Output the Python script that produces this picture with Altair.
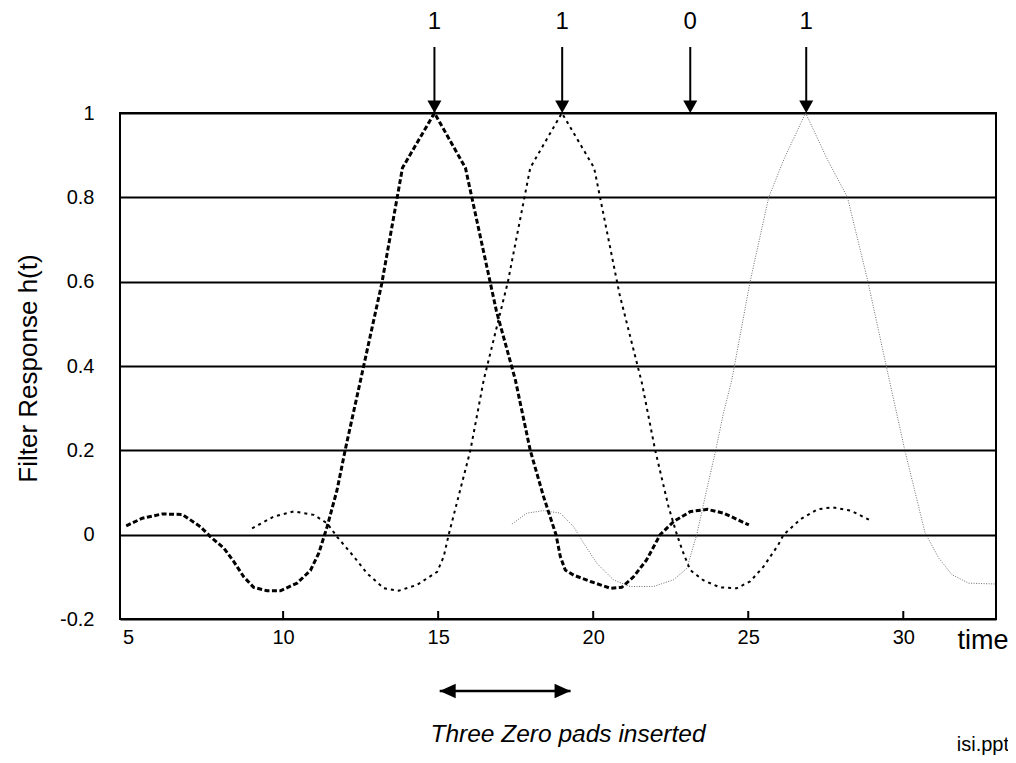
import altair as alt
import pandas as pd

# ---- data ------------------------------------------------------------------
# Pulse 1 (heavy dashed) - peak near t = 14.9
p1_t = [4.94, 5.46, 6.1, 6.75, 7.33, 7.66, 8.09, 8.41, 8.73, 9.05, 9.48, 9.91,
        10.45, 10.88, 11.15, 11.42, 11.74, 12.0, 12.5, 13.18, 13.85, 14.88,
        15.88, 16.88, 17.49, 17.97, 18.4, 18.8, 18.94, 19.1, 19.37, 19.91,
        20.55, 20.92, 21.3, 21.72, 22.16, 22.59, 23.14, 23.68, 24.21, 25.02]
p1_h = [0.021, 0.039, 0.049, 0.048, 0.019, -0.005, -0.032, -0.064, -0.1, -0.125,
        -0.133, -0.133, -0.115, -0.085, -0.044, 0.019, 0.106, 0.2, 0.367, 0.595,
        0.87, 1.0, 0.87, 0.53, 0.367, 0.2, 0.09, 0.0, -0.052, -0.084, -0.096,
        -0.111, -0.127, -0.125, -0.1, -0.06, 0.0, 0.031, 0.055, 0.06, 0.051, 0.023]

# Pulse 2 (medium dashed) - peak near t = 19
p2_t = [9.0, 9.7, 10.34, 10.99, 11.42, 11.74, 12.28, 12.71, 13.25, 13.73, 14.32,
        14.97, 15.18, 15.34, 16.04, 16.47, 17.25, 17.97, 18.99, 20.03, 20.85,
        21.57, 22.0, 22.43, 22.7, 22.91, 23.13, 23.55, 24.09, 24.63, 25.06,
        25.49, 25.97, 26.14, 26.69, 27.23, 27.72, 28.31, 28.96]
p2_h = [0.015, 0.043, 0.055, 0.047, 0.027, -0.005, -0.052, -0.092, -0.127, -0.133,
        -0.119, -0.088, -0.052, 0.0, 0.2, 0.367, 0.6, 0.87, 1.0, 0.87, 0.57,
        0.36, 0.2, 0.066, 0.0, -0.044, -0.084, -0.108, -0.125, -0.127, -0.111,
        -0.076, -0.024, 0.0, 0.037, 0.06, 0.065, 0.057, 0.033]

# Pulse 3 (thin dotted) - peak near t = 26.9
p3_t = [17.38, 17.86, 18.4, 18.94, 19.37, 19.69, 20.12, 20.65, 21.19, 21.94,
        22.59, 23.02, 23.34, 23.66, 23.95, 24.2, 24.47, 25.06, 25.66, 26.15,
        26.85, 27.55, 28.2, 28.86, 29.45, 30.05, 30.7, 31.14, 31.57, 32.11, 32.98]
p3_h = [0.025, 0.051, 0.057, 0.051, 0.019, -0.02, -0.068, -0.107, -0.123, -0.123,
        -0.107, -0.08, 0.0, 0.106, 0.2, 0.288, 0.367, 0.6, 0.8, 0.89,
        1.0, 0.89, 0.8, 0.6, 0.4, 0.2, 0.005, -0.055, -0.095, -0.115, -0.117]

x_labels = [5, 10, 15, 20, 25, 30]
x_inner_ticks = [10, 15, 20, 25, 30]
y_labels = [-0.2, 0, 0.2, 0.4, 0.6, 0.8, 1]

arrow_t = [14.88, 19.0, 23.13, 26.87]
arrow_bits = ["1", "1", "0", "1"]

pad_start = [15.05]
pad_end = [19.27]

# ---- tables -----------------------------------------------------------------
d1 = pd.DataFrame({"t": p1_t, "h": p1_h})
d2 = pd.DataFrame({"t": p2_t, "h": p2_h})
d3 = pd.DataFrame({"t": p3_t, "h": p3_h})
dticks = pd.DataFrame({"t": x_inner_ticks})
darrow = pd.DataFrame({"t": arrow_t, "bit": arrow_bits})
dpad = pd.DataFrame({"t": pad_start, "t2": pad_end})

FONT = "Liberation Sans"
XS = alt.Scale(domain=[4.74, 32.99], nice=False, zero=False)
YS = alt.Scale(domain=[-0.2, 1.0], nice=False, zero=False)

x_axis = alt.Axis(values=x_labels, labelExpr="'' + datum.value", ticks=False,
                  domain=False, grid=False, labelFontSize=20, labelPadding=8,
                  labelColor="black", labelFont=FONT,
                  title="time", titleFont=FONT, titleFontSize=27,
                  titleFontWeight="normal", titleColor="black",
                  titleX=837, titleY=21, titleAlign="left", titleBaseline="middle",
                  titleAnchor="start")
y_axis = alt.Axis(values=y_labels, labelExpr="'' + datum.value", ticks=False,
                  domain=False, grid=True, gridColor="black", gridWidth=2,
                  gridOpacity=1, labelFontSize=20, labelPadding=26,
                  labelColor="black", labelFont=FONT,
                  title="Filter Response h(t)", titleFont=FONT, titleFontSize=26,
                  titleFontWeight="normal", titleColor="black",
                  titleAngle=270, titleX=-92, titleY=255, titleAlign="center",
                  titleBaseline="middle")

X = alt.X("t:Q", scale=XS, axis=x_axis)
Y = alt.Y("h:Q", scale=YS, axis=y_axis)

pulse3 = alt.Chart(d3).mark_line(color="#6e6e6e", strokeWidth=1,
                                 strokeDash=[1, 1.5]).encode(x=X, y=Y)
pulse2 = alt.Chart(d2).mark_line(color="black", strokeWidth=2,
                                 strokeDash=[3, 4]).encode(x=X, y=Y)
pulse1 = alt.Chart(d1).mark_line(color="black", strokeWidth=3,
                                 strokeDash=[5, 2.5]).encode(x=X, y=Y)

inner_ticks = alt.Chart(dticks).mark_rule(color="black", strokeWidth=2).encode(
    x=X, y=alt.value(506), y2=alt.value(498))

arrow_shafts = alt.Chart(darrow).mark_rule(color="black", strokeWidth=2).encode(
    x=X, y=alt.value(-66), y2=alt.value(-10))
arrow_heads = alt.Chart(darrow).mark_point(
    shape="M -1 -1.8 L 1 -1.8 L 0 0 Z", filled=True, size=196, color="black",
    opacity=1, strokeWidth=0).encode(x=X, y=alt.value(0))
arrow_text = alt.Chart(darrow).mark_text(font=FONT, fontSize=24, color="black",
                                         baseline="middle").encode(
    x=X, y=alt.value(-91), text="bit:N")

pad_rule = alt.Chart(dpad).mark_rule(color="black", strokeWidth=2.5).encode(
    x=X, x2="t2:Q", y=alt.value(578))
pad_left = alt.Chart(dpad).mark_point(
    shape="M 0 0 L 2 -0.9 L 2 0.9 Z", filled=True, size=256, color="black",
    opacity=1, strokeWidth=0).encode(x=X, y=alt.value(578))
pad_right = alt.Chart(dpad).mark_point(
    shape="M 0 0 L -2 -0.9 L -2 0.9 Z", filled=True, size=256, color="black",
    opacity=1, strokeWidth=0).encode(x=alt.X("t2:Q", scale=XS, axis=x_axis),
                                     y=alt.value(578))

note = alt.Chart(pd.DataFrame({"txt": ["Three Zero pads inserted"]})).mark_text(
    font=FONT, fontSize=24.5, fontStyle="italic", color="black", align="center",
    baseline="middle").encode(x=alt.value(448), y=alt.value(622), text="txt:N")
src = alt.Chart(pd.DataFrame({"txt": ["isi.ppt"]})).mark_text(
    font=FONT, fontSize=20, color="black", align="right",
    baseline="middle").encode(x=alt.value(889), y=alt.value(632), text="txt:N")

chart = alt.layer(
    pulse3, pulse2, pulse1, inner_ticks,
    arrow_shafts, arrow_heads, arrow_text,
    pad_rule, pad_left, pad_right, note, src,
).properties(
    width=876, height=506,
    autosize=alt.AutoSizeParams(type="none"),
    padding={"left": 112, "top": 105, "right": 12, "bottom": 140},
).configure(
    background="white"
).configure_view(
    stroke="black", strokeWidth=2, fill="white"
)

chart.save("out.html", embed_options={"renderer": "svg", "actions": False})
